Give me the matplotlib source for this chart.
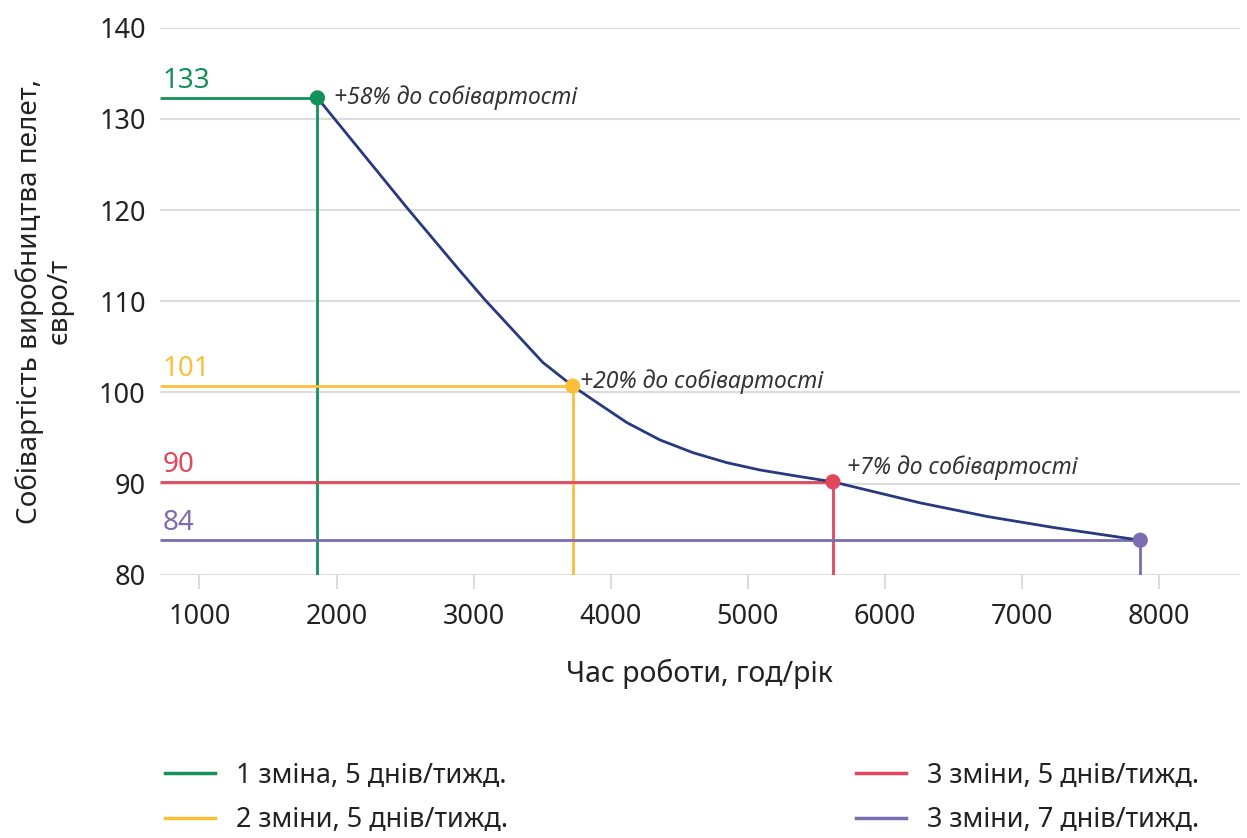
import matplotlib
matplotlib.use('Agg')
import matplotlib.pyplot as plt
from matplotlib.lines import Line2D

plt.rcParams['font.family'] = ['Noto Sans', 'DejaVu Sans']

# крива собівартості
curve_hours = [1861, 2511, 2891, 3080, 3504, 3723, 3869, 4117, 4358, 4599, 4847,
               5088, 5328, 5620, 6255, 6745, 7226, 7861]
curve_cost = [132.3, 120.3, 113.5, 110.2, 103.3, 100.7, 99.2, 96.7, 94.8, 93.4, 92.3,
              91.5, 90.9, 90.2, 87.9, 86.4, 85.2, 83.8]

# режими роботи
mode_hours = [1861, 3723, 5620, 7861]
mode_cost = [132.3, 100.7, 90.2, 83.8]
mode_labels = ['133', '101', '90', '84']
mode_names = ['1 зміна, 5 днів/тижд.', '2 зміни, 5 днів/тижд.',
              '3 зміни, 5 днів/тижд.', '3 зміни, 7 днів/тижд.']
markup = ['+58% до собівартості', '+20% до собівартості', '+7% до собівартості', None]

xticks = [1000, 2000, 3000, 4000, 5000, 6000, 7000, 8000]
yticks = [80, 90, 100, 110, 120, 130, 140]

colors = ['#13915a', '#fbbf3b', '#e0475a', '#7a6db0']
curve_color = '#27397f'
text_color = '#333333'

fig = plt.figure(figsize=(12.47, 8.38), dpi=100)
ax = fig.add_axes([0.128, 0.314, 0.866, 0.653])

xmin, xmax = 710, 8585
ax.set_xlim(xmin, xmax)
ax.set_ylim(80, 140)

for y in yticks:
    ax.axhline(y, color='#dcdcdc', lw=1.5, zorder=1)

for h, c, lab, col in zip(mode_hours, mode_cost, mode_labels, colors):
    ax.plot([xmin, h], [c, c], color=col, lw=2, zorder=2, solid_capstyle='butt')
    ax.plot([h, h], [80, c], color=col, lw=2, zorder=2, solid_capstyle='butt')
    ax.annotate(lab, (xmin, c), xytext=(2, 2), textcoords='offset points',
                color=col, fontsize=20, va='bottom', ha='left')

ax.plot(curve_hours, curve_cost, color=curve_color, lw=2, zorder=3,
        solid_joinstyle='round')
ax.scatter(mode_hours, mode_cost, s=120, c=colors, zorder=4, edgecolors='none')

offsets = [(12, 0), (5, 3), (10, 10)]
for h, c, txt, off in zip(mode_hours, mode_cost, markup, offsets):
    if txt is None:
        continue
    ax.annotate(txt, (h, c), xytext=off, textcoords='offset points',
                fontsize=16.5, style='italic', color=text_color,
                va='center', ha='left')

for s in ax.spines.values():
    s.set_visible(False)
ax.set_xticks(xticks)
ax.set_yticks(yticks)
ax.tick_params(axis='x', length=10, width=1.5, color='#dcdcdc', pad=10,
               labelsize=19.5, labelcolor='#222222')
ax.tick_params(axis='y', length=0, pad=10, labelsize=19.5, labelcolor='#222222')

ax.set_xlabel('Час роботи, год/рік', fontsize=20.5, color='#222222', labelpad=20)
ax.set_ylabel('Собівартість виробництва пелет,\nєвро/т', fontsize=20,
              color='#222222', labelpad=18, linespacing=1.1)

handles = [Line2D([0], [0], color=col, lw=2.5) for col in colors]
leg_kw = dict(loc='upper left', frameon=False, fontsize=19.5, handlelength=1.85,
              handletextpad=0.75, labelspacing=0.6, labelcolor='#222222')
fig.legend(handles[:2], mode_names[:2], bbox_to_anchor=(0.113, 0.12), **leg_kw)
fig.legend(handles[2:], mode_names[2:], bbox_to_anchor=(0.667, 0.12), **leg_kw)

fig.savefig('out.png', dpi=100)
